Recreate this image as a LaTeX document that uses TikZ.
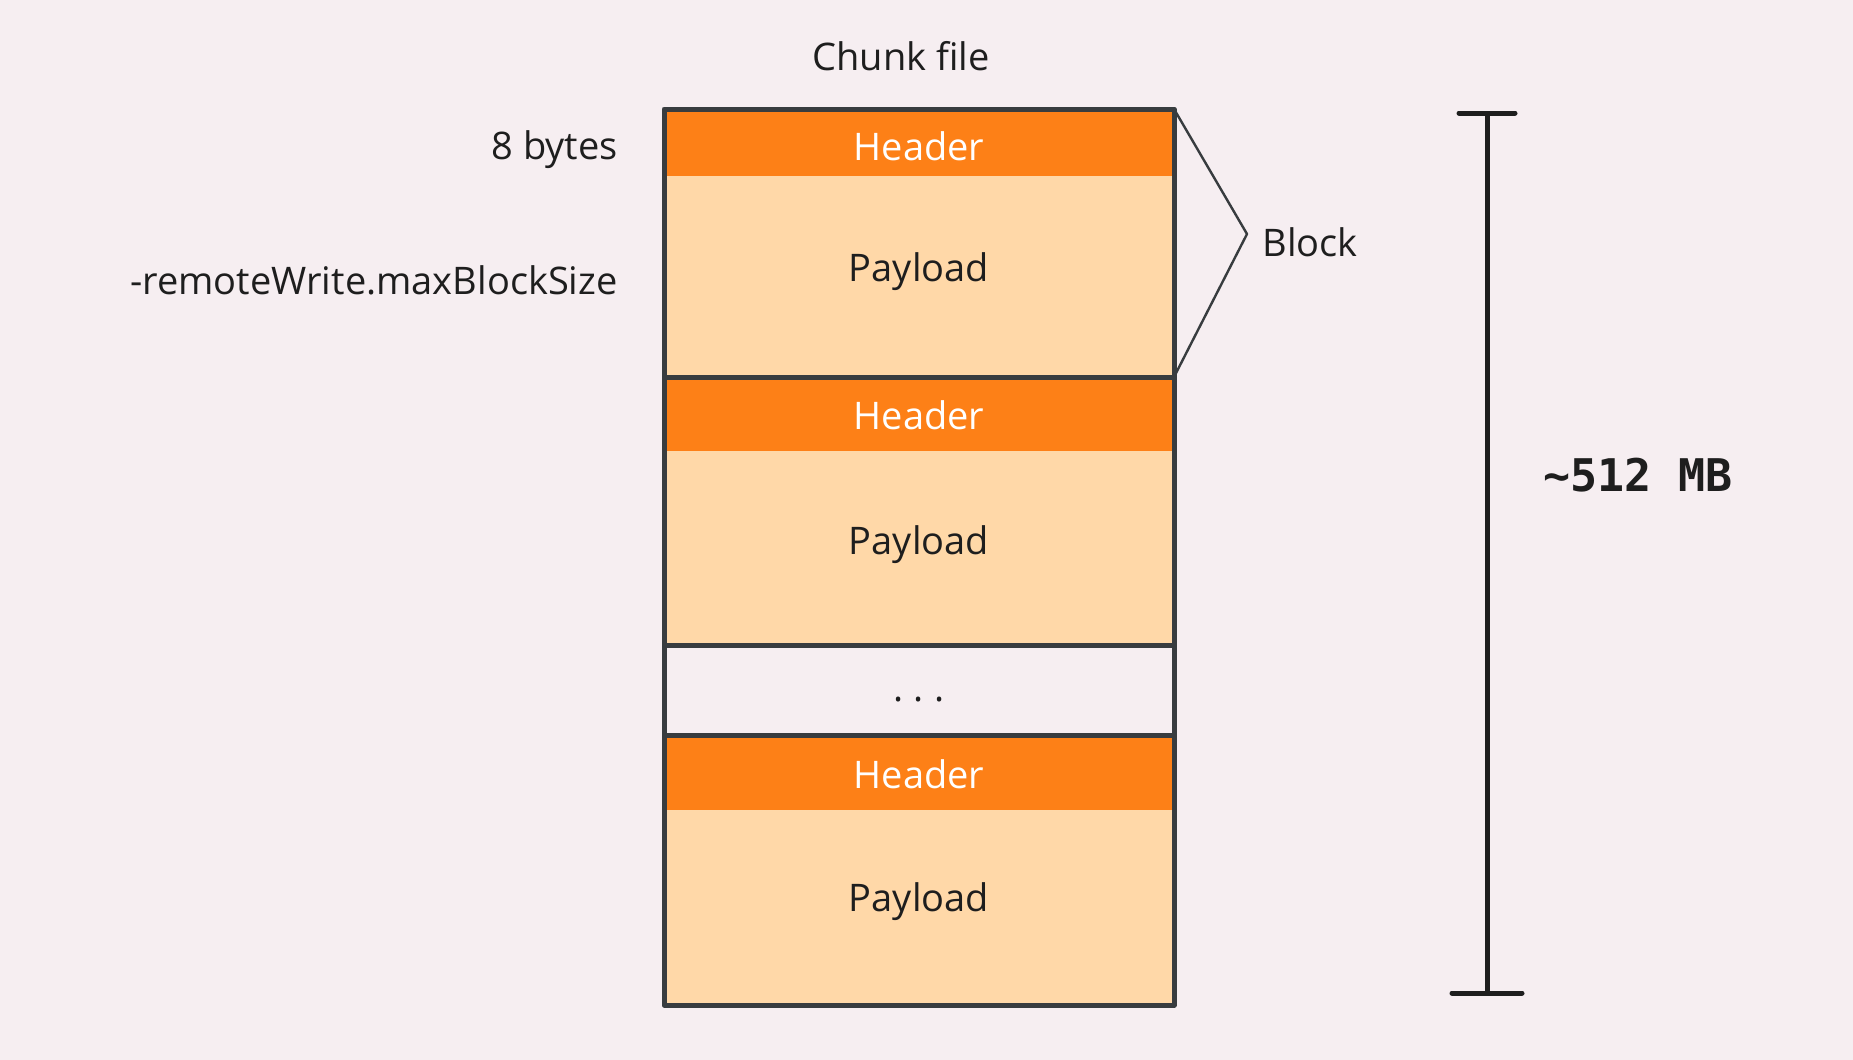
\documentclass[tikz,border=0pt]{standalone}
\usepackage{fontspec}
\setmainfont{Open Sans}
\setmonofont{DejaVu Sans Mono}
\definecolor{bgpink}{HTML}{F6EEF1}
\definecolor{hdrorange}{HTML}{FD8017}
\definecolor{payorange}{HTML}{FFD8A8}
\definecolor{edgegray}{HTML}{383C3F}
\definecolor{inkdark}{HTML}{1E1E1E}
\tikzset{
  lbl/.style={font=\fontsize{19}{23}\selectfont, text=inkdark, inner sep=0pt, anchor=base},
  hdrlbl/.style={lbl, text=white},
  edge/.style={edgegray, line width=2.5pt},
}
\begin{document}
\begin{tikzpicture}[x=0.5pt,y=-0.5pt]
  \fill[bgpink] (0,0) rectangle (1853,1060);
  \useasboundingbox (0,0) rectangle (1853,1060);
  % blocks
  \fill[hdrorange] (664,109) rectangle (1174,176);
  \fill[payorange] (664,176) rectangle (1174,377);
  \fill[hdrorange] (664,377) rectangle (1174,451);
  \fill[payorange] (664,451) rectangle (1174,645);
  \fill[hdrorange] (664,735) rectangle (1174,810);
  \fill[payorange] (664,810) rectangle (1174,1005);
  \draw[edge] (664,377) -- (1174,377);
  \draw[edge] (664,645) -- (1174,645);
  \draw[edge] (664,735) -- (1174,735);
  \draw[edge, line join=round] (664,109) rectangle (1174,1005);
  \node[hdrlbl] (hdrA) at (919,160) {Header};
  \node[lbl] (payA) at (919,281) {Payload};
  \node[hdrlbl] (hdrB) at (919,429) {Header};
  \node[lbl] (payB) at (919,554) {Payload};
  \node[lbl] (dots) at (919,701) {.\hspace{5pt}.\hspace{5pt}.};
  \node[hdrlbl] (hdrC) at (919,788) {Header};
  \node[lbl] (payC) at (919,911) {Payload};
  % labels on the left
  \node[lbl] (title) at (901,70) {Chunk file};
  \node[lbl, anchor=base east] (hdrsize) at (618,159) {8 bytes};
  \node[lbl, anchor=base east] (paysize) at (618,294) {-remoteWrite.maxBlockSize};
  % block brace
  \coordinate (blkTop) at (1174,109);
  \coordinate (blkTip) at (1247,234);
  \coordinate (blkBot) at (1174,377);
  \draw[edgegray, line width=1.2pt, line join=round] (blkTop) -- (blkTip) -- (blkBot);
  \node[lbl, anchor=base west] (blk) at (1262,256) {Block};
  % size bar
  \coordinate (barT) at (1487,113);
  \coordinate (barB) at (1487,993);
  \draw[inkdark, line width=2.5pt] (barT) -- (barB);
  \draw[inkdark, line width=2.5pt, line cap=round] ([xshift=-14pt]barT) -- ([xshift=14pt]barT);
  \draw[inkdark, line width=2.5pt, line cap=round] ([xshift=-17.5pt]barB) -- ([xshift=17.5pt]barB);
  \node[lbl, font=\ttfamily\bfseries\fontsize{22.5}{27}\selectfont] (size) at (1638,491) {\textasciitilde512 MB};
\end{tikzpicture}
\end{document}
